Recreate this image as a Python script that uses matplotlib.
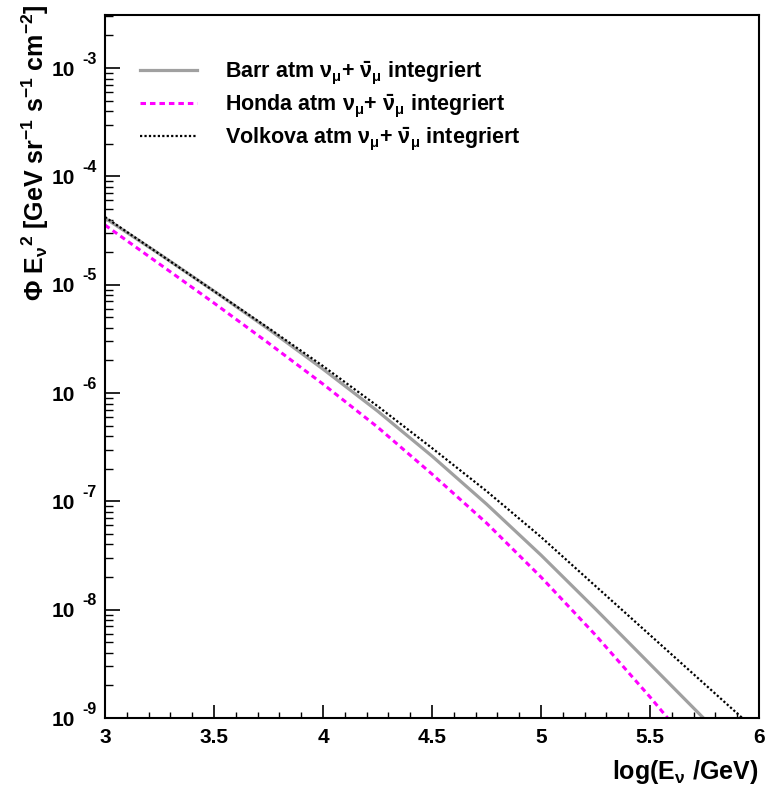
import matplotlib
matplotlib.use('Agg')
import matplotlib.pyplot as plt
import matplotlib.transforms as mtransforms
from matplotlib.ticker import MultipleLocator, LogLocator, NullFormatter
import numpy as np

plt.rcParams['font.family'] = ['Liberation Sans', 'DejaVu Sans']
plt.rcParams['font.weight'] = 'bold'
plt.rcParams['mathtext.fontset'] = 'custom'
plt.rcParams['mathtext.rm'] = 'Liberation Sans:bold'
plt.rcParams['mathtext.it'] = 'Liberation Sans:bold'
plt.rcParams['mathtext.bf'] = 'Liberation Sans:bold'

# log10(E/GeV)
log_e = [3.0, 3.25, 3.5, 3.75, 4.0, 4.25, 4.5, 4.75, 5.0, 5.25, 5.5, 5.75, 6.0]
# log10(Phi E^2)
barr_log = [-4.385, -4.717, -5.059, -5.410, -5.779, -6.166, -6.582, -7.025,
            -7.496, -7.994, -8.502, -9.010, -9.517]
honda_log = [-4.449, -4.809, -5.169, -5.539, -5.917, -6.314, -6.748, -7.200,
             -7.699, -8.234, -8.806, -9.406, -10.034]
volkova_log = [-4.375, -4.717, -5.059, -5.400, -5.751, -6.120, -6.508, -6.905,
               -7.329, -7.782, -8.234, -8.686, -9.139]
labels = [r'Barr atm $\nu_{\mu}$+ $\bar{\nu}_{\mu}$ integriert',
          r'Honda atm $\nu_{\mu}$+ $\bar{\nu}_{\mu}$ integriert',
          r'Volkova atm $\nu_{\mu}$+ $\bar{\nu}_{\mu}$ integriert']
y_exps = [-9, -8, -7, -6, -5, -4, -3]
x_ticks = [3, 3.5, 4, 4.5, 5, 5.5, 6]
x_ticklabels = ['3', '3.5', '4', '4.5', '5', '5.5', '6']

x = np.array(log_e)
fig = plt.figure(figsize=(7.66, 7.87), dpi=100)
ax = fig.add_axes([105/766, 1-718/787, 654/766, 703/787])

ax.plot(x, 10**np.array(barr_log), color='#a0a0a0', lw=2.3, label=labels[0])
ax.plot(x, 10**np.array(honda_log), color='#ff00ff', lw=2.2,
        dashes=(1.8, 1.3), dash_capstyle='butt', label=labels[1])
ax.plot(x, 10**np.array(volkova_log), color='black', lw=1.6,
        dashes=(1, 1), dash_capstyle='butt', label=labels[2])

ax.set_yscale('log')
ax.set_xlim(3, 6)
ax.set_ylim(1e-9, 10**-2.51)

for sp in ax.spines.values():
    sp.set_linewidth(1.5)

ax.set_xticks(x_ticks)
ax.set_xticklabels(x_ticklabels, fontsize=15, fontweight='bold')
ax.xaxis.set_minor_locator(MultipleLocator(0.1))
ax.yaxis.set_major_locator(LogLocator(base=10, numticks=20))
ax.yaxis.set_minor_locator(LogLocator(base=10, subs=np.arange(2, 10), numticks=20))
ax.yaxis.set_major_formatter(NullFormatter())
ax.yaxis.set_minor_formatter(NullFormatter())
ax.tick_params(axis='x', which='major', direction='in', length=9.4, width=1.2, pad=7)
ax.tick_params(axis='x', which='minor', direction='in', length=4.3, width=1.0)
ax.tick_params(axis='y', which='major', direction='in', length=10.8, width=1.2)
ax.tick_params(axis='y', which='minor', direction='in', length=5.8, width=1.0)

# ROOT style "10" with raised exponent
ytr = ax.get_yaxis_transform()
for k in y_exps:
    t1 = ytr + mtransforms.ScaledTranslation(0, -2/100, fig.dpi_scale_trans)
    ax.text(-30/654, 10.0**k, '10', transform=t1, ha='right', va='center',
            fontsize=15, fontweight='bold')
    t2 = ytr + mtransforms.ScaledTranslation(0, 9/100, fig.dpi_scale_trans)
    ax.text(-23/654, 10.0**k, '%d' % k, transform=t2, ha='left', va='center',
            fontsize=11.5, fontweight='bold')

fig.text(758/766, 1-772/787, r'log(E$_{\nu}$ /GeV)', ha='right', va='center',
         fontsize=18, fontweight='bold')
fig.text(35/766, 1-4/787,
         r'$\Phi$ E$_{\nu}$$^{2}$ [GeV sr$^{-1}$ s$^{-1}$ cm$^{-2}$]',
         rotation=90, ha='center', va='top', fontsize=18, fontweight='bold')

ax.legend(loc='upper left', bbox_to_anchor=(35/654, 1-44/703), frameon=False,
          fontsize=15.5, handlelength=2.65, handletextpad=1.3, labelspacing=0.28,
          borderaxespad=0, borderpad=0)

fig.savefig('out.png', dpi=100)
